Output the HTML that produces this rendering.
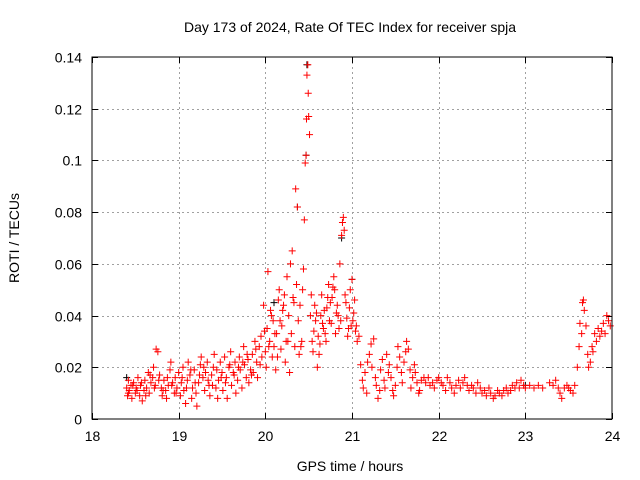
<!DOCTYPE html>
<html><head><meta charset="utf-8"><style>
body{margin:0;background:#fff}
svg{display:block;font-family:"Liberation Sans",sans-serif}
</style></head><body>
<svg id="chart" width="640" height="480">
<text x="350" y="32" text-anchor="middle" font-size="14">Day 173 of 2024, Rate Of TEC Index for receiver spja</text>
<text x="19" y="238" text-anchor="middle" font-size="14" transform="rotate(-90 19 238)">ROTI / TECUs</text>
<text x="350" y="471" text-anchor="middle" font-size="14">GPS time / hours</text>
<g id="grid"></g>
<g id="ticks"></g>
<g id="marks"></g>
<rect x="92" y="57" width="520" height="362" fill="none" stroke="#000" stroke-width="1"/>
</svg>
<script>
const xTicks=[18,19,20,21,22,23,24];
const yTicks=[0,0.02,0.04,0.06,0.08,0.1,0.12,0.14];
const yTickLabels=["0","0.02","0.04","0.06","0.08","0.1","0.12","0.14"];
const hours=[18.40,18.41,18.42,18.43,18.45,18.46,18.48,18.50,18.51,18.53,18.55,18.56,18.58,18.60,18.61,18.63,18.65,18.66,18.68,18.70,18.71,18.73,18.74,18.76,18.78,18.80,18.81,18.83,18.85,18.86,18.88,18.90,18.91,18.93,18.95,18.96,18.98,19.00,
19.02,19.03,19.05,19.06,19.08,19.10,19.11,19.13,19.15,19.16,19.18,19.20,19.21,19.23,19.25,19.26,19.28,19.30,19.31,19.33,19.35,19.36,19.38,19.40,19.41,19.43,19.45,19.46,19.48,19.50,
19.51,19.53,19.55,19.56,19.58,19.60,19.61,19.63,19.65,19.66,19.68,19.70,19.71,19.73,19.75,19.76,19.78,19.80,19.81,19.83,19.85,19.86,19.88,19.90,19.91,19.93,19.95,19.96,19.98,20.00,
20.01,20.02,20.03,20.05,20.06,20.08,20.09,20.10,20.12,20.13,20.15,20.16,20.18,20.19,20.20,20.22,20.23,20.24,20.25,20.27,20.28,20.29,20.30,20.31,20.33,20.34,20.35,20.36,20.37,20.38,20.39,20.40,20.42,20.43,20.44,20.45,20.46,20.47,20.475,20.48,20.49,20.495,20.50,20.51,20.52,20.53,20.54,20.55,20.57,20.58,20.60,20.61,20.62,20.64,20.65,20.67,20.68,20.70,20.72,20.73,20.75,20.76,20.78,20.79,20.80,20.81,20.83,20.84,20.86,20.87,20.88,20.89,20.90,20.91,20.92,20.93,20.95,20.96,20.97,20.98,21.00,21.01,21.03,21.04,21.06,21.08,
21.10,21.12,21.13,21.15,21.17,21.18,21.20,21.22,21.23,21.25,21.27,21.28,21.30,21.32,21.33,21.35,21.37,21.38,21.40,21.42,21.43,21.45,21.47,21.48,21.50,21.52,21.53,21.55,21.57,21.58,21.60,21.62,21.63,21.65,21.67,21.68,21.70,21.72,21.73,21.75,21.77,21.78,
21.80,21.83,21.85,21.88,21.90,21.93,21.95,21.98,22.00,22.03,22.05,22.08,22.10,22.13,22.15,22.18,22.20,22.23,22.25,22.28,22.30,22.33,22.35,22.38,22.40,22.43,22.45,22.48,
22.50,22.53,22.55,22.58,22.60,22.63,22.65,22.68,22.70,22.73,22.75,22.78,22.80,22.83,22.85,22.88,22.90,22.93,22.95,22.98,23.00,
23.05,23.10,23.15,23.20,23.28,23.32,23.35,23.38,23.40,23.42,23.45,23.48,23.50,23.52,23.55,23.57,
23.60,23.62,23.63,23.65,23.66,23.67,23.68,23.70,23.72,23.73,23.75,23.77,23.78,23.80,23.82,23.84,23.86,23.88,23.90,23.92,23.94,23.96,23.98,
18.42,18.47,18.52,18.57,18.62,18.67,18.72,18.77,18.82,18.87,18.92,18.97,19.04,19.09,19.14,19.19,19.24,19.29,19.34,19.39,19.44,19.49,19.54,19.59,19.64,19.69,19.74,19.79,19.84,19.89,19.94,19.99,20.04,20.07,20.11,20.14,20.17,20.21,20.26,20.32,20.41,20.56,20.59,20.63,20.66,20.69,20.71,20.74,20.77,20.82,20.85,20.94,20.99,21.02,21.05];
const roti=[.012,.009,.015,.011,.013,.008,.014,.010,.012,.016,.009,.013,.007,.011,.015,.012,.018,.010,.014,.016,.020,.013,.027,.026,.017,.012,.009,.015,.011,.008,.013,.019,.022,.014,.010,.016,.012,.018,
.009,.014,.020,.011,.006,.015,.022,.017,.008,.012,.019,.010,.005,.014,.021,.024,.016,.011,.018,.022,.013,.009,.017,.020,.025,.012,.008,.015,.022,.018,
.011,.024,.016,.008,.020,.026,.013,.018,.022,.010,.015,.024,.019,.012,.028,.021,.016,.023,.014,.019,.025,.018,.030,.022,.016,.028,.032,.024,.044,.026,
.020,.035,.057,.030,.042,.024,.038,.028,.019,.033,.046,.050,.027,.036,.042,.048,.022,.030,.055,.040,.018,.060,.033,.065,.045,.028,.089,.052,.082,.038,.025,.044,.030,.050,.058,.077,.099,.102,.116,.133,.137,.126,.117,.110,.040,.048,.030,.026,.044,.038,.020,.032,.025,.040,.048,.035,.042,.030,.047,.052,.045,.037,.051,.055,.050,.033,.044,.040,.060,.038,.071,.076,.078,.073,.048,.045,.032,.035,.043,.050,.054,.038,.046,.034,.030,.032,
.021,.015,.012,.018,.010,.022,.025,.029,.020,.031,.016,.013,.008,.011,.019,.023,.015,.012,.025,.018,.021,.016,.011,.009,.013,.020,.028,.024,.018,.014,.022,.026,.030,.027,.019,.012,.016,.021,.018,.014,.010,.011,
.015,.016,.014,.016,.013,.014,.012,.015,.016,.014,.013,.011,.016,.014,.012,.010,.013,.015,.012,.014,.016,.013,.011,.013,.012,.010,.014,.012,
.010,.011,.009,.012,.010,.008,.009,.011,.010,.009,.011,.012,.010,.011,.013,.012,.014,.012,.015,.013,.012,
.013,.012,.013,.012,.014,.013,.015,.012,.010,.008,.012,.013,.012,.011,.010,.013,
.020,.028,.037,.033,.045,.046,.042,.036,.025,.020,.022,.028,.026,.033,.030,.035,.032,.034,.037,.033,.040,.038,.036,
.010,.013,.011,.014,.009,.017,.012,.015,.011,.016,.013,.010,.016,.012,.019,.014,.017,.020,.015,.013,.019,.016,.014,.021,.017,.020,.022,.025,.017,.027,.021,.034,.028,.040,.033,.024,.038,.044,.030,.047,.028,.034,.041,.029,.037,.033,.043,.038,.047,.041,.035,.039,.036,.041,.036];
const blackHours=[18.40,20.10,20.37,20.47,20.48,20.88,21.00,23.00];
const blackRoti=[.016,.045,.082,.102,.137,.070,.054,.013];

const X0=92,X1=612,Y0=419,Y1=57;
const xs=h=>X0+(h-18)/6*(X1-X0);
const ys=v=>Y0-v/0.14*(Y0-Y1);
const NS="http://www.w3.org/2000/svg";
const grid=document.getElementById('grid'),ticks=document.getElementById('ticks'),marks=document.getElementById('marks');
function ln(p,x1,y1,x2,y2,st,dash){const l=document.createElementNS(NS,'line');l.setAttribute('x1',x1);l.setAttribute('y1',y1);l.setAttribute('x2',x2);l.setAttribute('y2',y2);l.setAttribute('stroke',st);l.setAttribute('stroke-width',1);if(dash)l.setAttribute('stroke-dasharray',dash);p.appendChild(l);return l;}
function tx(p,x,y,s,anc){const t=document.createElementNS(NS,'text');t.setAttribute('x',x);t.setAttribute('y',y);t.setAttribute('font-size',14);t.setAttribute('text-anchor',anc);t.textContent=s;p.appendChild(t);return t;}
xTicks.forEach(h=>{const x=Math.round(xs(h))+0.5;
 if(h>18&&h<24){const g=ln(grid,x,Y1,x,Y0,'#a0a0a0','2,3');}
 ln(ticks,x,Y0,x,Y0-6,'#000');ln(ticks,x,Y1,x,Y1+6,'#000');
 const t=tx(ticks,x,441,String(h),'middle');
 
 
});
yTicks.forEach((v,i)=>{const y=Math.round(ys(v))+0.5;
 if(i>0&&i<yTicks.length-1){const g=ln(grid,X0,y,X1,y,'#a0a0a0','2,3');}
 ln(ticks,X0,y,X0+6,y,'#000');ln(ticks,X1,y,X1-6,y,'#000');
 const t=tx(ticks,82,y+5,yTickLabels[i],'end');
 
 
});
function plus(h,v,c){const x=xs(h),y=ys(v);const p=document.createElementNS(NS,'path');
 p.setAttribute('d',`M${x-3.5} ${y}H${x+3.5}M${x} ${y-3.5}V${y+3.5}`);p.setAttribute('stroke',c);p.setAttribute('stroke-width',1);p.setAttribute('fill','none');
 
 
 marks.appendChild(p);}
blackHours.forEach((h,i)=>plus(h,blackRoti[i],'#000000'));
hours.forEach((h,i)=>plus(h,roti[i],'#ff0000'));
</script>
</body></html>
